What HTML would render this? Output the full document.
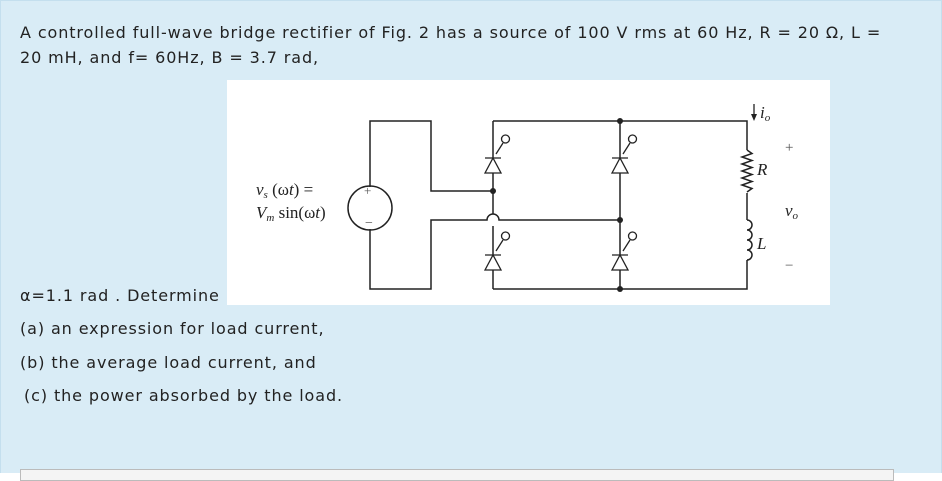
<!DOCTYPE html>
<html><head><style>
body{margin:0;width:942px;height:472px;background:#fff;overflow:hidden;font-family:"DejaVu Sans","Liberation Sans",sans-serif;}
.bg{position:absolute;left:0;top:0;width:940px;height:472px;background:#d9ecf6;border:1px solid #c4dfee;border-bottom:none;}
.t{position:absolute;left:20px;font-size:16px;letter-spacing:0.9px;color:#222;white-space:nowrap;}
.fig{position:absolute;left:227px;top:80px;width:603px;height:225px;background:#fff;}
.box{position:absolute;left:20px;top:469px;width:872px;height:10px;background:#f4f4f4;border:1px solid #bbb;}
</style></head><body>
<div class="bg"></div>
<div class="t" style="top:23px">A controlled full-wave bridge rectifier of Fig. 2 has a source of 100 V rms at 60 Hz, R = 20 Ω, L =</div>
<div class="t" style="top:48px">20 mH, and f= 60Hz, B = 3.7 rad,</div>
<div class="fig"></div>
<div class="t" style="top:286px">α=1.1 rad . Determine</div>
<div class="t" style="top:319px">(a) an expression for load current,</div>
<div class="t" style="top:353px">(b) the average load current, and</div>
<div class="t" style="top:386px;left:24px">(c) the power absorbed by the load.</div>
<div class="box"></div>
<svg style="position:absolute;left:0;top:0" width="942" height="472" font-family="Liberation Serif,serif">
<g stroke="#222" stroke-width="1.5" fill="none">
<path d="M370 187V121H431V191H493"/>
<path d="M370 229V289H431V220H487A6 6 0 0 1 499 220H620"/>
<path d="M493 121H747V150"/>
<path d="M747 193V220"/>
<path d="M747 260V289H493"/>
<path d="M493 121V214M493 226V289"/>
<path d="M620 121V289"/>
<circle cx="370" cy="208" r="22"/>
<path d="M747 150l5 3.5l-10 3.5l10 3.5l-10 3.5l10 3.5l-10 3.5l10 3.5l-10 3.5l10 3.5l-10 3.5l10 3.5l-5 3.5"/>
<path d="M747 220a5 5 0 0 1 0 10a5 5 0 0 1 0 10a5 5 0 0 1 0 10a5 5 0 0 1 0 10"/>
</g>
<g fill="#222">
<circle cx="620" cy="121" r="3"/><circle cx="620" cy="289" r="3"/>
<circle cx="493" cy="191" r="3"/><circle cx="620" cy="220" r="3"/>
</g>
<g stroke="#222" stroke-width="1.3" fill="#fff">
<g id="th"><path d="M485 173L493 158L501 173Z"/><path d="M485 158H501M496 154L503 143" fill="none"/><circle cx="505.5" cy="139" r="4"/></g>
<use href="#th" x="127"/><use href="#th" y="97"/><use href="#th" x="127" y="97"/>
</g>
<path d="M754 104V118" stroke="#222" stroke-width="1.3"/><path d="M751 114L754 121L757 114Z" fill="#222"/>
<g font-size="17" font-style="italic" fill="#222">
<text x="760" y="118">i<tspan font-size="11" dy="3">o</tspan></text>
<text x="757" y="175">R</text><text x="757" y="249">L</text>
<text x="785" y="216">v<tspan font-size="11" dy="3">o</tspan></text>
<text x="256" y="195">v<tspan font-size="11" dy="3">s</tspan><tspan dy="-3" font-style="normal"> (ω</tspan>t<tspan font-style="normal">) =</tspan></text>
<text x="256" y="218">V<tspan font-size="11" dy="3">m</tspan><tspan dy="-3" font-style="normal"> sin(ω</tspan>t<tspan font-style="normal">)</tspan></text>
</g>
<g font-size="15" fill="#555"><text x="785" y="152">+</text><text x="785" y="270">−</text><text x="364" y="195" font-size="13">+</text><text x="365" y="227" font-size="14">−</text></g>
</svg>
</body></html>
